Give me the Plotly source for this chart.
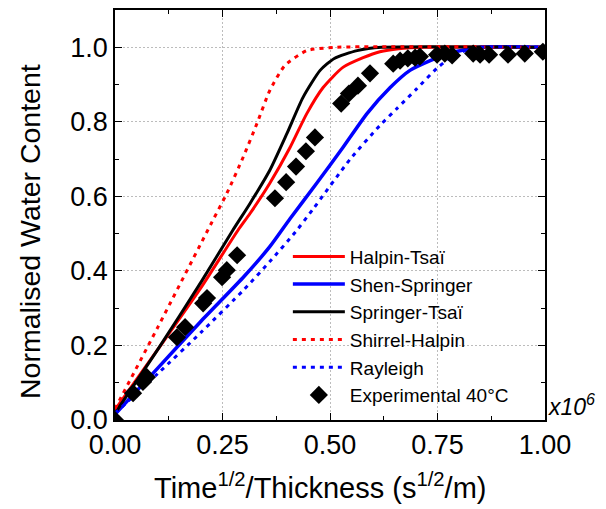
import plotly.graph_objects as go

# ---- data ----
ht_x = [0, 0.1, 0.2, 0.286, 0.314, 0.36, 0.407, 0.446, 0.484, 0.53, 0.577, 0.616, 0.66, 0.72, 1.0]
ht_y = [0.027, 0.19, 0.355, 0.509, 0.554, 0.635, 0.731, 0.822, 0.892, 0.946, 0.972, 0.988, 0.996, 1.0, 1.0]

ss_x = [0, 0.1, 0.2, 0.3, 0.36, 0.407, 0.469, 0.53, 0.586, 0.64, 0.686, 0.733, 0.78, 0.85, 1.0]
ss_y = [0.015, 0.14, 0.265, 0.385, 0.465, 0.54, 0.635, 0.731, 0.822, 0.892, 0.938, 0.964, 0.985, 1.0, 1.0]

st_x = [0, 0.1, 0.2, 0.274, 0.314, 0.36, 0.4, 0.437, 0.477, 0.51, 0.563, 0.62, 1.0]
st_y = [0.018, 0.19, 0.37, 0.509, 0.581, 0.67, 0.769, 0.865, 0.938, 0.97, 0.991, 1.0, 1.0]

sh_x = [0, 0.1, 0.225, 0.26, 0.298, 0.33, 0.36, 0.395, 0.446, 0.516, 1.0]
sh_y = [0.03, 0.25, 0.53, 0.608, 0.705, 0.795, 0.884, 0.951, 0.991, 1.0, 1.0]

ra_x = [0, 0.1, 0.2, 0.3, 0.36, 0.42, 0.46, 0.547, 0.616, 0.656, 0.702, 0.749, 0.795, 0.85, 1.0]
ra_y = [0.018, 0.125, 0.235, 0.35, 0.425, 0.505, 0.565, 0.7, 0.79, 0.836, 0.889, 0.944, 0.983, 1.0, 1.0]

exp_x = [0, 0.042, 0.065, 0.074, 0.144, 0.163, 0.205, 0.214, 0.249, 0.26, 0.284,
         0.372, 0.398, 0.421, 0.444, 0.465, 0.526, 0.544, 0.565, 0.593,
         0.647, 0.663, 0.681, 0.698, 0.709, 0.749, 0.767, 0.784, 0.833, 0.849,
         0.87, 0.914, 0.953, 0.995]
exp_y = [0, 0.072, 0.102, 0.115, 0.222, 0.249, 0.313, 0.327, 0.383, 0.402, 0.442,
         0.595, 0.638, 0.68, 0.721, 0.758, 0.849, 0.876, 0.897, 0.93,
         0.956, 0.964, 0.97, 0.972, 0.975, 0.98, 0.983, 0.978, 0.983, 0.98,
         0.98, 0.98, 0.983, 0.988]

x_ticks = [0, 0.25, 0.5, 0.75, 1.0]
x_labels = ["0.00", "0.25", "0.50", "0.75", "1.00"]
y_ticks = [0, 0.2, 0.4, 0.6, 0.8, 1.0]
y_labels = ["0.0", "0.2", "0.4", "0.6", "0.8", "1.0"]

FONT = "Liberation Sans, Arial, sans-serif"
DOT = "4px,5px"

fig = go.Figure()
fig.add_trace(go.Scatter(x=ht_x, y=ht_y, mode="lines", name="Halpin-Tsaï",
                         line=dict(color="#ff0000", width=3, shape="spline", smoothing=0.6)))
fig.add_trace(go.Scatter(x=ss_x, y=ss_y, mode="lines", name="Shen-Springer",
                         line=dict(color="#0000ff", width=3.5, shape="spline", smoothing=0.6)))
fig.add_trace(go.Scatter(x=st_x, y=st_y, mode="lines", name="Springer-Tsaï",
                         line=dict(color="#000000", width=3, shape="spline", smoothing=0.6)))
fig.add_trace(go.Scatter(x=sh_x, y=sh_y, mode="lines", name="Shirrel-Halpin",
                         line=dict(color="#ff0000", width=3, dash=DOT, shape="spline", smoothing=0.6)))
fig.add_trace(go.Scatter(x=ra_x, y=ra_y, mode="lines", name="Rayleigh",
                         line=dict(color="#0000ff", width=3, dash=DOT, shape="spline", smoothing=0.6)))
fig.add_trace(go.Scatter(x=exp_x, y=exp_y, mode="markers", name="Experimental 40°C",
                         marker=dict(symbol="diamond", size=14, color="#000000")))

axis_common = dict(
    showline=True, linecolor="black", linewidth=1.5, mirror="allticks",
    ticks="inside", ticklen=7, tickwidth=1.2, tickcolor="black",
    showgrid=True, gridcolor="#bcbcbc", gridwidth=1, griddash="2px,2px",
    zeroline=False, tickfont=dict(family=FONT, size=27, color="black"),
    automargin=False, layer="above traces",
)

fig.update_xaxes(range=[0, 1.0], tickvals=x_ticks, ticktext=x_labels,
                 minor=dict(ticks="inside", ticklen=4, dtick=0.125, tick0=0, tickcolor="black", showgrid=False),
                 **axis_common)
fig.update_yaxes(range=[0, 1.1], tickvals=y_ticks, ticktext=y_labels,
                 minor=dict(ticks="inside", ticklen=4, dtick=0.1, tick0=0, tickcolor="black", showgrid=False),
                 **axis_common)

# page body has an 8px margin, so the figure is 8px smaller and shifted
fig.update_layout(
    width=598, height=501,
    margin=dict(l=107, r=61, t=2, b=89),
    paper_bgcolor="white", plot_bgcolor="white",
    font=dict(family=FONT, color="black"),
    showlegend=True,
    legend=dict(x=0.402, y=0.445, xanchor="left", yanchor="top",
                bgcolor="rgba(0,0,0,0)", borderwidth=0,
                font=dict(family=FONT, size=19, color="black"),
                itemwidth=52, tracegroupgap=0),
    annotations=[
        dict(text="Normalised Water Content", xref="paper", yref="paper",
             x=-0.2, y=0.5, xanchor="center", yanchor="middle", textangle=-90,
             showarrow=False, font=dict(family=FONT, size=28.5, color="black"),
             xshift=1, yshift=-17),
        dict(text="Time<sup>1/2</sup>/Thickness (s<sup>1/2</sup>/m)", xref="paper", yref="paper",
             x=0.5, y=0, yshift=-66, xshift=-10, xanchor="center", yanchor="middle",
             showarrow=False, font=dict(family=FONT, size=29, color="black")),
        dict(text="<i>x10<sup>6</sup></i>", xref="paper", yref="paper",
             x=1.0, y=0, xanchor="left", yanchor="bottom", xshift=1, yshift=-2,
             showarrow=False, font=dict(family=FONT, size=23, color="black")),
    ],
)

fig.write_html("out.html")
